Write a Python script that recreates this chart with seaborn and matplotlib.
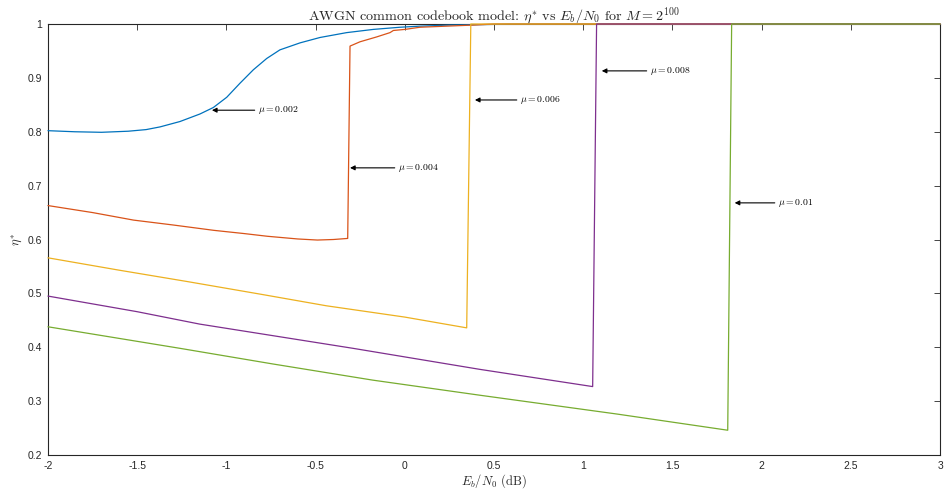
import matplotlib
matplotlib.use("Agg")
import matplotlib.pyplot as plt
import seaborn as sns
import pandas as pd
from matplotlib.ticker import FixedLocator, FixedFormatter

# Eb/N0 (dB) and optimal eta* for each mu
x_mu002 = [-2.0, -1.85, -1.70, -1.55, -1.45, -1.372, -1.26, -1.148, -1.073, -0.998,
           -0.924, -0.849, -0.774, -0.700, -0.587, -0.475, -0.326, -0.176, -0.027,
           0.085, 0.25, 0.45, 0.6, 1.0, 3.0]
y_mu002 = [0.802, 0.800, 0.799, 0.801, 0.804, 0.809, 0.819, 0.833, 0.845, 0.864,
           0.890, 0.915, 0.936, 0.952, 0.965, 0.975, 0.984, 0.990, 0.994,
           0.996, 0.998, 0.999, 1.0, 1.0, 1.0]

x_mu004 = [-2.0, -1.75, -1.52, -1.30, -1.07, -0.90, -0.77, -0.60, -0.49, -0.40,
           -0.32, -0.307, -0.251, -0.158, -0.083, -0.064, 0.001, 0.085, 0.16,
           0.38, 0.5, 3.0]
y_mu004 = [0.663, 0.650, 0.636, 0.627, 0.617, 0.611, 0.606, 0.601, 0.599, 0.600,
           0.602, 0.959, 0.967, 0.976, 0.984, 0.988, 0.990, 0.994, 0.995,
           0.998, 1.0, 1.0]

x_mu006 = [-2.0, -1.6, -1.22, -0.8, -0.44, 0.0, 0.347, 0.37, 3.0]
y_mu006 = [0.566, 0.543, 0.522, 0.498, 0.477, 0.456, 0.436, 1.0, 1.0]

x_mu008 = [-2.0, -1.5, -1.15, -0.29, 0.42, 1.053, 1.075, 3.0]
y_mu008 = [0.495, 0.466, 0.443, 0.398, 0.359, 0.327, 1.0, 1.0]

x_mu010 = [-2.0, -1.26, -0.74, -0.18, 0.42, 1.19, 1.81, 1.832, 3.0]
y_mu010 = [0.438, 0.398, 0.369, 0.339, 0.311, 0.276, 0.246, 1.0, 1.0]

mu_labels = [r"$\mu = 0.002$", r"$\mu = 0.004$", r"$\mu = 0.006$",
             r"$\mu = 0.008$", r"$\mu = 0.01$"]
# arrow head (on the curve) and label anchor positions
arrow_heads = [(-1.081, 0.840), (-0.307, 0.733), (0.393, 0.859),
               (1.104, 0.913), (1.849, 0.668)]
label_pos = [(-0.823, 0.840), (-0.038, 0.733), (0.646, 0.859),
             (1.374, 0.913), (2.092, 0.668)]

xticks = [-2, -1.5, -1, -0.5, 0, 0.5, 1, 1.5, 2, 2.5, 3]
xtick_labels = ["-2", "-1.5", "-1", "-0.5", "0", "0.5", "1", "1.5", "2", "2.5", "3"]
yticks = [0.2, 0.3, 0.4, 0.5, 0.6, 0.7, 0.8, 0.9, 1.0]
ytick_labels = ["0.2", "0.3", "0.4", "0.5", "0.6", "0.7", "0.8", "0.9", "1"]

colors = ["#0072BD", "#D95319", "#EDB120", "#7E2F8E", "#77AC30"]

sns.set_theme(style="white")
plt.rcParams["mathtext.fontset"] = "cm"
plt.rcParams["font.family"] = ["Liberation Sans", "DejaVu Sans"]

fig = plt.figure(figsize=(9.46, 4.95), dpi=100)
ax = fig.add_axes([0.0507, 0.0808, 0.9430, 0.8707])

series = [(x_mu002, y_mu002), (x_mu004, y_mu004), (x_mu006, y_mu006),
          (x_mu008, y_mu008), (x_mu010, y_mu010)]
for (xs, ys), c in zip(series, colors):
    df = pd.DataFrame({"x": xs, "y": ys})
    sns.lineplot(data=df, x="x", y="y", ax=ax, color=c, linewidth=0.9,
                 sort=False, estimator=None, zorder=3, clip_on=False)

for lab, head, tail in zip(mu_labels, arrow_heads, label_pos):
    ax.annotate(lab, xy=head, xytext=tail, fontsize=7, color="black",
                ha="left", va="center",
                arrowprops=dict(arrowstyle="-|>", color="black", lw=0.8,
                                mutation_scale=7, shrinkA=0, shrinkB=0))

ax.set_xlim(-2, 3)
ax.set_ylim(0.2, 1.0)
ax.xaxis.set_major_locator(FixedLocator(xticks))
ax.xaxis.set_major_formatter(FixedFormatter(xtick_labels))
ax.yaxis.set_major_locator(FixedLocator(yticks))
ax.yaxis.set_major_formatter(FixedFormatter(ytick_labels))

axcol = "#262626"
for s in ax.spines.values():
    s.set_visible(True)
    s.set_color(axcol)
    s.set_linewidth(0.8)
ax.tick_params(direction="in", length=4, width=0.6, color=axcol,
               top=True, right=True, labelsize=7.5, labelcolor=axcol, pad=4)

ax.set_title(r"AWGN common codebook model: $\eta^{*}$ vs $E_b/N_0$ for $M = 2^{100}$",
             fontsize=10.2, family="cmr10", pad=3)
ax.set_xlabel(r"$E_b/N_0$ (dB)", fontsize=9, family="cmr10", labelpad=1)
ax.set_ylabel(r"$\eta^{*}$", fontsize=9, labelpad=2)
ax.grid(False)

fig.savefig("out.png", dpi=100)
